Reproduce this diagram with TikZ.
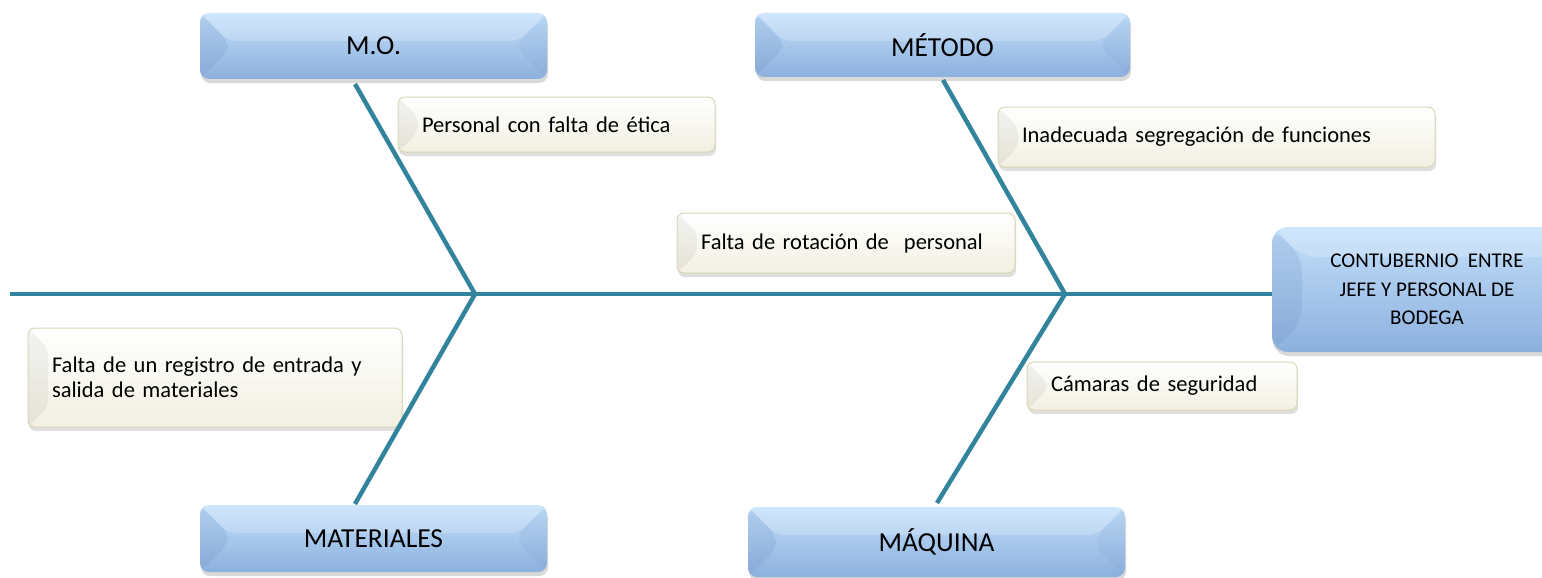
\documentclass[tikz,border=0pt]{standalone}
\usepackage{fontspec}
\setmainfont{Carlito}
\usetikzlibrary{shadows}
\definecolor{bone}{HTML}{31849B}
\definecolor{bluetop}{HTML}{C4E0FB}
\definecolor{bluemid}{HTML}{98BCE7}
\definecolor{bluebot}{HTML}{8CB0DD}
\definecolor{bevdark}{HTML}{6F93C2}
\definecolor{cream}{HTML}{DAD6B4}
\definecolor{creambot}{HTML}{F2F0E2}
\tikzset{
  bonestyle/.style={draw=bone, line width=4.5pt, line join=miter},
  bluebevel/.style={path picture={
    \fill[bevdark, opacity=0.22]
      (path picture bounding box.north west) --
      ([xshift=#1,yshift=-#1]path picture bounding box.north west) --
      ([xshift=#1,yshift=#1]path picture bounding box.south west) --
      (path picture bounding box.south west) -- cycle;
    \fill[bevdark, opacity=0.12]
      (path picture bounding box.north east) --
      ([xshift=-#1,yshift=-#1]path picture bounding box.north east) --
      ([xshift=-#1,yshift=#1]path picture bounding box.south east) --
      (path picture bounding box.south east) -- cycle;
    \fill[white, opacity=0.2]
      (path picture bounding box.north west) --
      (path picture bounding box.north east) --
      ([xshift=-#1,yshift=-#1]path picture bounding box.north east) --
      ([xshift=#1,yshift=-#1]path picture bounding box.north west) -- cycle;
  }},
  labelbox/.style={rounded corners=9pt, top color=bluetop, middle color=bluemid,
    bottom color=bluebot, inner sep=0pt, text=black,
    font=\fontsize{27.5}{32}\selectfont,
    drop shadow={shadow xshift=1pt, shadow yshift=-4pt, opacity=0.3},
    bluebevel=28pt},
  headbox/.style={labelbox, rounded corners=16pt, align=center,
    font=\fontsize{21}{28.5}\selectfont, bluebevel=30pt},
  notebox/.style={rounded corners=7pt, top color=white, bottom color=creambot,
    draw=cream, line width=1pt, inner xsep=24pt, inner ysep=0pt,
    align=left, text=black, font=\fontsize{22.5}{25}\selectfont,
    drop shadow={shadow xshift=1pt, shadow yshift=-4pt, opacity=0.25},
    path picture={
      \fill[black, opacity=0.05]
        (path picture bounding box.north west) --
        ([xshift=20pt,yshift=-20pt]path picture bounding box.north west) --
        ([xshift=20pt,yshift=20pt]path picture bounding box.south west) --
        (path picture bounding box.south west) -- cycle;
    }},
}
\begin{document}
\begin{tikzpicture}[x=1pt,y=-1pt]
\useasboundingbox (0,0) rectangle (1542,578);
\clip (0,0) rectangle (1542,578);
% category boxes
\node[labelbox, minimum width=347pt, minimum height=66pt] (mo) at (373.5,46) {M.O.};
\node[labelbox, minimum width=375pt, minimum height=64pt] (met) at (942.5,45) {MÉTODO};
\node[labelbox, minimum width=347pt, minimum height=67pt] (mat) at (373.5,538.5) {MATERIALES};
\node[labelbox, minimum width=377pt, minimum height=70pt] (maq) at (936.5,542) {MÁQUINA};
% head
\node[headbox, minimum width=310pt, minimum height=125pt] (head) at (1427,289.5)
  {CONTUBERNIO\ \ ENTRE\\JEFE Y PERSONAL DE\\BODEGA};
% cause notes
\node[notebox, text width=269pt, minimum height=55pt] (p1) at (556.5,124.5) {Personal con falta de ética};
\node[notebox, text width=389pt, minimum height=60pt] (p2) at (1216.5,137) {Inadecuada segregación de funciones};
\node[notebox, text width=290pt, minimum height=60pt] (p3) at (846,243) {Falta de rotación de\ \ personal};
\node[notebox, text width=326pt, minimum height=99pt] (p4) at (215,377.5) {Falta de un registro de entrada y\\salida de materiales};
\node[notebox, text width=222pt, minimum height=48pt] (p5) at (1162,386) {Cámaras de seguridad};
% bones
\coordinate (tail) at (10,294);
\coordinate (jl) at (475,294);
\coordinate (jr) at (1065,294);
\coordinate (tl) at (355,84);
\coordinate (bl) at (355,504);
\coordinate (tr) at (943,80);
\coordinate (br) at (937,503);
\draw[bonestyle] (tail) -- (tail -| head.west);
\draw[bonestyle] (tl) -- (jl) -- (bl);
\draw[bonestyle] (tr) -- (jr) -- (br);
\end{tikzpicture}
\end{document}
